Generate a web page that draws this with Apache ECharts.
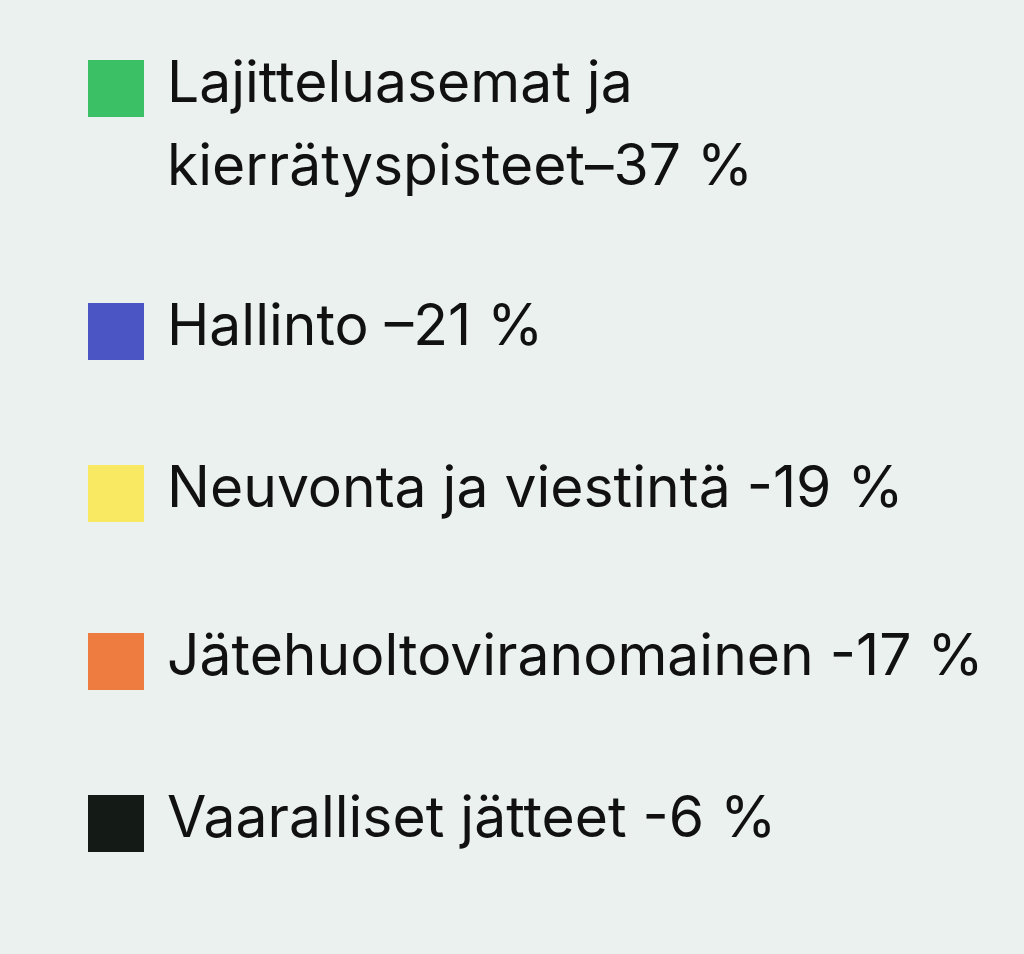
<!DOCTYPE html>
<html>
<head>
<meta charset="utf-8">
<script src="https://cdn.jsdelivr.net/npm/echarts@6/dist/echarts.min.js"></script>
<style>
  html, body { margin: 0; padding: 0; background: #ebf1ee; }
  #chart { width: 1024px; height: 954px; }
</style>
</head>
<body>
<div id="chart"></div>
<script>
// legend texts as they appear in the picture
const labels = [
  'Lajitteluasemat ja\nkierrätyspisteet–37 %',
  'Hallinto –21 %',
  'Neuvonta ja viestintä -19 %',
  'Jätehuoltoviranomainen -17 %',
  'Vaaralliset jätteet -6 %'
]
const values = [37, 21, 19, 17, 6]
const colors = ['#3cc065', '#4b55c3', '#f8e862', '#ee7b3f', '#141a16']

// top edge of each coloured square (px)
const squareTops = [60, 303, 465, 633, 795]

const chart = echarts.init(document.getElementById('chart'))

const SQ_W = 56
const SQ_H = 57

// legend icon = the square plus an invisible point, so the text
// (centred on the icon box) sits a little higher than the square centre
function iconFor(multi) {
  if (multi) {
    // square at top, box 132 high -> first text line lines up with square
    return {
      icon: `path://M0,0L${SQ_W},0L${SQ_W},${SQ_H}L0,${SQ_H}ZM0,132L0.01,132`,
      h: 132, offset: 17
    }
  }
  return {
    icon: `path://M0,0L0.01,0M0,8L${SQ_W},8L${SQ_W},${8 + SQ_H}L0,${8 + SQ_H}Z`,
    h: 8 + SQ_H, offset: 8
  }
}

const legends = labels.map((name, i) => {
  const multi = name.indexOf('\n') >= 0
  const ic = iconFor(multi)
  return {
    data: [name],
    orient: 'vertical',
    left: 88,
    top: squareTops[i] - ic.offset,
    padding: 0,
    icon: ic.icon,
    itemWidth: SQ_W,
    itemHeight: ic.h,
    selectedMode: false,
    itemStyle: { opacity: 1, borderWidth: 0 },
    textStyle: {
      fontFamily: 'Inter',
      fontSize: 57,
      fontWeight: 400,
      color: '#111',
      lineHeight: multi ? 83 : 60,
      padding: [0, 0, 0, 18]
    }
  }
})

chart.setOption({
  backgroundColor: '#ebf1ee',
  animation: false,
  color: colors,
  legend: legends,
  series: [{
    type: 'pie',
    radius: 0,
    silent: true,
    label: { show: false },
    labelLine: { show: false },
    data: labels.map((name, i) => ({ name, value: values[i] }))
  }]
})
</script>
</body>
</html>
